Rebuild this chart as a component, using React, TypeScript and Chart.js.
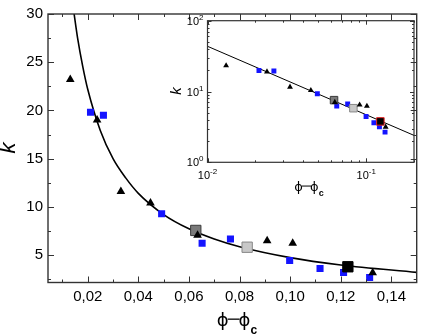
import React, { useEffect, useRef } from "react";
import { Chart, registerables } from "chart.js";
Chart.register(...registerables);

// ---- data ----
const triX = [0.0131, 0.0237, 0.0331, 0.0448, 0.0634, 0.0909, 0.101, 0.1326];
const triK = [23.2, 19.0, 11.6, 10.4, 7.06, 6.47, 6.23, 3.15];
const blueX = [0.0211, 0.0262, 0.0492, 0.0652, 0.0764, 0.0998, 0.1118, 0.1211, 0.1314];
const blueK = [19.8, 19.5, 9.29, 6.22, 6.66, 4.43, 3.61, 3.18, 2.67];
const darkGrayX = [0.0627];
const darkGrayK = [7.55];
const lightGrayX = [0.083];
const lightGrayK = [5.81];
const blackX = [0.1228];
const blackK = [3.78];
// fitted curve
const curveX = [0.0143, 0.016, 0.018, 0.02, 0.025, 0.03, 0.035, 0.04, 0.05, 0.06, 0.07, 0.08, 0.1, 0.12, 0.15];
const curveK = [30.6, 27.5, 24.6, 22.2, 17.9, 15.0, 13.0, 11.4, 9.2, 7.72, 6.66, 5.86, 4.73, 3.97, 3.2];
// fitted line (log-log)
const insetLineX = [0.01, 0.2];
const insetLineK = [43.5, 2.4];

// ticks
const xMajor = [0.02, 0.04, 0.06, 0.08, 0.1, 0.12, 0.14];
const xMinor = [0.01, 0.03, 0.05, 0.07, 0.09, 0.11, 0.13];
const yMajor = [5, 10, 15, 20, 25, 30];
const yMinor = [2.5, 7.5, 12.5, 17.5, 22.5, 27.5];
const insetXMajor = [0.01, 0.1];
const insetXExp = ["-2", "-1"];
const insetXMinor = [0.02, 0.03, 0.04, 0.05, 0.06, 0.07, 0.08, 0.09, 0.2];
const insetYMajor = [1, 10, 100];
const insetYExp = ["0", "1", "2"];
const insetYMinor = [2, 3, 4, 5, 6, 7, 8, 9, 20, 30, 40, 50, 60, 70, 80, 90];

const FONT = '"Liberation Sans", Arial, sans-serif';
const PHI_FONT = '"DejaVu Sans", "Liberation Sans", sans-serif';
const BLUE = "#1414ff";

const pts = (xs: number[], ys: number[]) => xs.map((x, i) => ({ x, y: ys[i] }));

function drawFrameTicks(chart: any, xMaj: number[], xMin: number[], yMaj: number[], yMin: number[], maj: number, min: number, lw: number) {
  const { ctx, chartArea, scales } = chart;
  const { left, right, top, bottom } = chartArea;
  const sx = scales.x, sy = scales.y;
  ctx.save();
  ctx.strokeStyle = "#333";
  ctx.lineWidth = lw;
  ctx.strokeRect(left, top, right - left, bottom - top);
  ctx.beginPath();
  const xt = (vals: number[], len: number) => {
    vals.forEach((v) => {
      const p = Math.round(sx.getPixelForValue(v)) + 0.5;
      ctx.moveTo(p, bottom); ctx.lineTo(p, bottom - len);
      ctx.moveTo(p, top); ctx.lineTo(p, top + len);
    });
  };
  const yt = (vals: number[], len: number) => {
    vals.forEach((v) => {
      const p = Math.round(sy.getPixelForValue(v)) + 0.5;
      ctx.moveTo(left, p); ctx.lineTo(left + len, p);
      ctx.moveTo(right, p); ctx.lineTo(right - len, p);
    });
  };
  xt(xMaj, maj); xt(xMin, min); yt(yMaj, maj); yt(yMin, min);
  ctx.lineWidth = 1;
  ctx.stroke();
  ctx.restore();
}

function drawPhiTitle(ctx: CanvasRenderingContext2D, cx: number, base: number, size: number, subSize: number) {
  ctx.save();
  ctx.fillStyle = "#000";
  ctx.strokeStyle = "#000";
  ctx.textBaseline = "alphabetic";
  ctx.textAlign = "left";
  ctx.font = `${size}px ${PHI_FONT}`;
  const wp = ctx.measureText("\u03D5").width;
  const dash = size * 0.55;
  ctx.font = `bold ${subSize}px ${FONT}`;
  const wc = ctx.measureText("c").width;
  const total = wp * 2 + dash + wc;
  let x = cx - total / 2;
  ctx.font = `${size}px ${PHI_FONT}`;
  ctx.fillText("\u03D5", x, base);
  x += wp;
  ctx.lineWidth = Math.max(1, size / 14);
  ctx.beginPath();
  const dy = base - size * 0.38;
  ctx.moveTo(x - 1, dy);
  ctx.lineTo(x + dash + 1, dy);
  ctx.stroke();
  x += dash;
  ctx.fillText("\u03D5", x, base);
  x += wp;
  ctx.font = `bold ${subSize}px ${FONT}`;
  ctx.fillText("c", x, base + size * 0.42);
  ctx.restore();
}

function drawK(ctx: CanvasRenderingContext2D, cx: number, cy: number, size: number) {
  ctx.save();
  ctx.translate(cx, cy);
  ctx.rotate(-Math.PI / 2);
  ctx.font = `italic ${size}px ${FONT}`;
  ctx.fillStyle = "#000";
  ctx.textAlign = "center";
  ctx.textBaseline = "middle";
  ctx.fillText("k", 0, 0);
  ctx.restore();
}

function drawPow(ctx: CanvasRenderingContext2D, exp: string, x: number, y: number, align: "center" | "right", size: number, esize: number) {
  ctx.save();
  ctx.fillStyle = "#000";
  ctx.textBaseline = "alphabetic";
  ctx.font = `${size}px ${FONT}`;
  const w1 = ctx.measureText("10").width;
  ctx.font = `${esize}px ${FONT}`;
  const w2 = ctx.measureText(exp).width;
  const total = w1 + w2;
  const x0 = align === "center" ? x - total / 2 : x - total;
  ctx.textAlign = "left";
  ctx.font = `${size}px ${FONT}`;
  ctx.fillText("10", x0, y);
  ctx.font = `${esize}px ${FONT}`;
  ctx.fillText(exp, x0 + w1, y - size * 0.45);
  ctx.restore();
}

export default function App() {
  const mainRef = useRef<HTMLCanvasElement>(null);
  const insetRef = useRef<HTMLCanvasElement>(null);

  useEffect(() => {
    document.body.style.margin = "0";
    const mainPlugin = {
      id: "mainDeco",
      afterDraw(chart: any) {
        drawFrameTicks(chart, xMajor, xMinor, yMajor, yMinor, 6, 3, 1.4);
        const ctx = chart.ctx;
        drawPhiTitle(ctx, 237, 326, 18, 12);
        drawK(ctx, 9, 148, 22);
      },
    };
    const c1 = new Chart(mainRef.current!, {
      type: "scatter",
      data: {
        datasets: [
          {
            data: pts(curveX, curveK), showLine: true, pointRadius: 0, borderColor: "#000",
            borderWidth: 1.6, cubicInterpolationMode: "monotone", order: 10,
          } as any,
          { data: pts(blueX, blueK), pointStyle: "rect", pointRadius: 5, backgroundColor: BLUE, borderColor: BLUE, borderWidth: 0, order: 3 },
          { data: pts(darkGrayX, darkGrayK), pointStyle: "rect", pointRadius: 7.3, backgroundColor: "#7a7a7a", borderColor: "#3a3a3a", borderWidth: 1, order: 2 },
          { data: pts(lightGrayX, lightGrayK), pointStyle: "rect", pointRadius: 7.3, backgroundColor: "#c8c8c8", borderColor: "#888", borderWidth: 1, order: 2 },
          { data: pts(blackX, blackK), pointStyle: "rect", pointRadius: 7.3, backgroundColor: "#000", borderColor: "#000", borderWidth: 1, order: 2 },
          { data: pts(triX, triK), pointStyle: "triangle", pointRadius: 5, backgroundColor: "#000", borderColor: "#000", borderWidth: 0, order: 1 },
        ],
      },
      options: {
        responsive: false, animation: false, devicePixelRatio: 1, events: [],
        layout: { padding: { top: 6, right: 1, left: 0, bottom: 0 } },
        plugins: { legend: { display: false }, tooltip: { enabled: false } },
        scales: {
          x: {
            type: "linear", min: 0.0043, max: 0.15,
            grid: { display: false, drawTicks: false }, border: { display: false },
            ticks: { color: "#000", padding: 5, font: { family: FONT, size: 15 }, maxRotation: 0, callback: (v: any) => Number(v).toFixed(2).replace(".", ",") },
            afterBuildTicks: (s: any) => { s.ticks = xMajor.map((value) => ({ value })); },
            afterFit: (s: any) => { s.height = 336 - 282.5; },
          },
          y: {
            type: "linear", min: 2.15, max: 30,
            grid: { display: false, drawTicks: false }, border: { display: false },
            ticks: { color: "#000", padding: 5, font: { family: FONT, size: 15 }, callback: (v: any) => String(v) },
            afterBuildTicks: (s: any) => { s.ticks = yMajor.map((value) => ({ value })); },
            afterFit: (s: any) => { s.width = 48; },
          },
        },
      } as any,
      plugins: [mainPlugin],
    });

    const insetPlugin = {
      id: "insetDeco",
      afterDraw(chart: any) {
        drawFrameTicks(chart, insetXMajor, insetXMinor, insetYMajor, insetYMinor, 4, 2, 1.2);
        const ctx = chart.ctx;
        const sx = chart.scales.x, sy = chart.scales.y;
        const { left, bottom } = chart.chartArea;
        insetXMajor.forEach((v, i) => drawPow(ctx, insetXExp[i], sx.getPixelForValue(v), bottom + 17, "center", 11, 8));
        insetYMajor.forEach((v, i) => drawPow(ctx, insetYExp[i], left - 4, sy.getPixelForValue(v) + 4, "right", 11, 8));
        drawPhiTitle(ctx, 149, 183, 13, 9);
        drawK(ctx, 17, 83, 15);
      },
    };
    const c2 = new Chart(insetRef.current!, {
      type: "scatter",
      data: {
        datasets: [
          { data: pts(insetLineX, insetLineK), showLine: true, pointRadius: 0, borderColor: "#000", borderWidth: 1, order: 10 } as any,
          { data: pts(blueX, blueK), pointStyle: "rect", pointRadius: 3.5, backgroundColor: BLUE, borderColor: BLUE, borderWidth: 0, order: 3 },
          { data: pts(darkGrayX, darkGrayK), pointStyle: "rect", pointRadius: 5.3, backgroundColor: "#7a7a7a", borderColor: "#3a3a3a", borderWidth: 1, order: 2 },
          { data: pts(lightGrayX, lightGrayK), pointStyle: "rect", pointRadius: 5.3, backgroundColor: "#c8c8c8", borderColor: "#888", borderWidth: 1, order: 2 },
          { data: pts(blackX, blackK), pointStyle: "rect", pointRadius: 5.3, backgroundColor: "#000", borderColor: "#e02020", borderWidth: 1, order: 2 },
          { data: pts(triX, triK), pointStyle: "triangle", pointRadius: 3.4, backgroundColor: "#000", borderColor: "#000", borderWidth: 0, order: 1 },
        ],
      },
      options: {
        responsive: false, animation: false, devicePixelRatio: 1, events: [],
        layout: { padding: { top: 12.7, right: 8, left: 0, bottom: 0 } },
        plugins: { legend: { display: false }, tooltip: { enabled: false } },
        scales: {
          x: {
            type: "logarithmic", min: 0.01, max: 0.2,
            grid: { display: false, drawTicks: false }, border: { display: false },
            ticks: { display: false },
            afterBuildTicks: (s: any) => { s.ticks = insetXMajor.map((value) => ({ value })); },
            afterFit: (s: any) => { s.height = 190 - 154.3; },
          },
          y: {
            type: "logarithmic", min: 1, max: 100,
            grid: { display: false, drawTicks: false }, border: { display: false },
            ticks: { display: false },
            afterBuildTicks: (s: any) => { s.ticks = insetYMajor.map((value) => ({ value })); },
            afterFit: (s: any) => { s.width = 47.5; },
          },
        },
      } as any,
      plugins: [insetPlugin],
    });

    return () => { c1.destroy(); c2.destroy(); };
  }, []);

  return (
    <div style={{ position: "relative", width: 425, height: 336 }}>
      <canvas ref={mainRef} width={425} height={336} style={{ position: "absolute", left: 0, top: 0, width: 425, height: 336 }} />
      <canvas ref={insetRef} width={262} height={190} style={{ position: "absolute", left: 160, top: 8, width: 262, height: 190 }} />
    </div>
  );
}
